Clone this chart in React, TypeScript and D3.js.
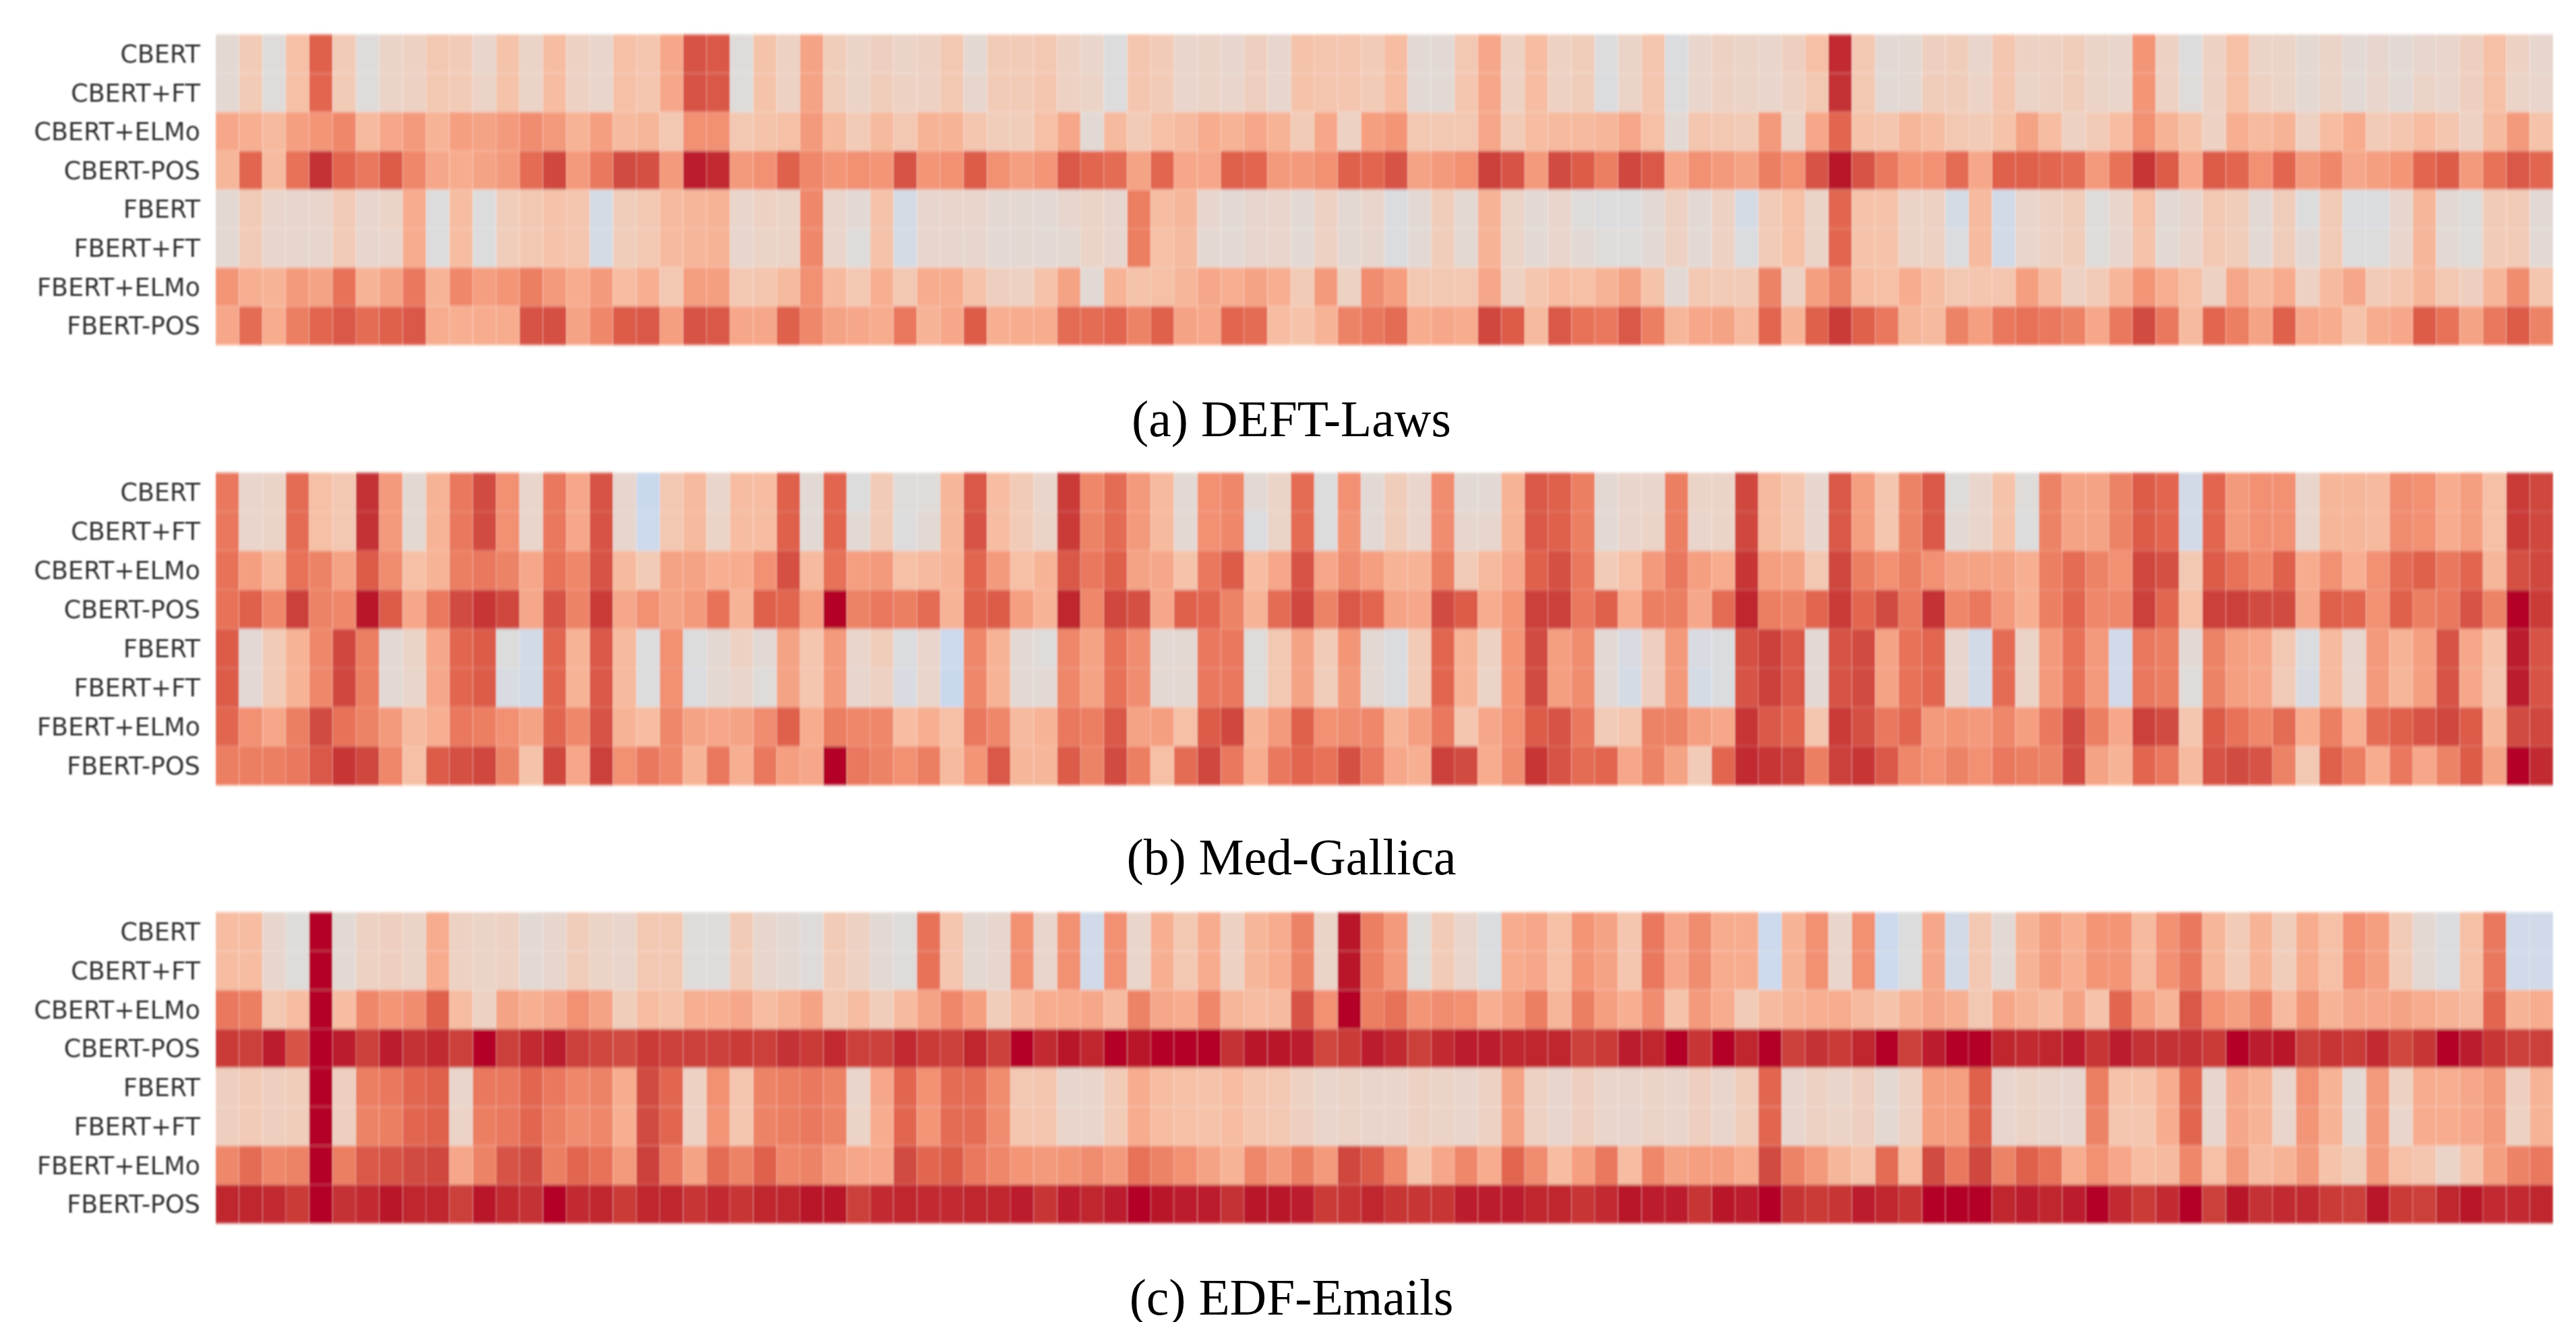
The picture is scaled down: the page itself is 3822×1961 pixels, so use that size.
import React from "react";
import * as d3 from "d3";

const rowLabels = ["CBERT", "CBERT+FT", "CBERT+ELMo", "CBERT-POS", "FBERT", "FBERT+FT", "FBERT+ELMo", "FBERT-POS"];

// one value per column (0-100, 50 is the neutral grey of the map)
const lawsCbert = [53,60,51,64,85,60,51,56,57,61,60,55,63,56,65,57,55,64,62,71,88,87,51,63,57,72,59,56,
  58,56,57,61,53,60,60,61,57,55,50,62,60,55,56,54,58,54,63,62,62,60,65,52,52,61,71,57,65,57,59,50,56,62,49,55,57,
  56,55,58,64,96,61,52,53,58,59,55,62,57,57,59,56,55,75,57,50,57,64,56,56,53,56,52,54,52,54,55,58,64,57,54];
const lawsCbertFt = [53,60,51,64,84,60,51,56,57,61,60,56,63,56,65,57,55,64,62,71,88,87,51,63,57,72,59,56,
  59,57,57,61,54,60,60,62,57,56,50,62,60,55,56,55,58,54,63,62,62,60,65,52,52,62,71,57,65,57,59,49,56,62,50,55,57,
  56,55,57,61,95,61,52,53,59,59,56,62,56,57,59,56,55,75,57,51,57,64,57,56,53,56,52,55,52,56,55,58,64,56,55];
const lawsCbertElmo = [71,69,66,73,75,78,66,71,74,68,73,72,74,77,74,68,73,66,67,61,76,76,61,63,64,74,66,60,
  66,61,68,68,62,59,59,64,71,52,66,60,64,66,70,68,71,68,60,71,57,73,75,61,61,61,71,60,65,66,66,67,71,64,52,62,61,
  60,74,56,71,84,63,62,67,65,61,60,63,72,65,57,60,65,76,68,63,57,69,66,68,57,65,70,60,62,65,62,57,66,74,63];
const lawsCbertPos = [67,84,66,82,95,84,81,86,78,71,70,72,74,83,91,74,81,90,89,74,98,96,74,76,85,78,75,76,
  75,88,75,76,86,76,73,75,87,84,83,72,84,71,71,85,84,74,74,76,85,84,88,72,74,76,92,88,74,90,86,80,91,87,71,76,74,
  72,80,76,88,99,88,81,75,76,83,71,85,85,84,83,74,82,94,86,71,86,84,76,84,74,78,71,73,75,84,86,74,82,87,84];
const lawsFbert = [53,60,55,54,55,60,54,56,70,50,65,50,59,61,63,62,47,59,61,66,67,68,55,57,56,78,55,52,
  63,47,54,55,55,53,53,52,54,56,54,80,65,67,54,52,54,55,52,57,53,55,49,52,59,53,68,56,52,55,51,50,50,52,57,52,57,
  47,60,64,56,84,63,63,56,57,47,66,46,55,57,59,51,55,64,52,54,61,59,52,59,50,60,49,49,54,67,52,51,60,60,52];
const lawsFbertFt = [53,60,54,54,54,60,54,55,70,50,65,50,59,61,63,62,47,59,61,66,67,68,54,56,56,78,55,51,
  63,47,54,54,54,52,53,52,53,56,54,80,64,66,53,52,54,55,52,57,53,54,49,52,59,53,68,56,52,55,52,51,51,52,57,52,57,
  49,60,64,56,84,63,63,56,57,49,66,46,55,57,59,51,54,63,52,55,61,59,52,59,52,60,50,50,55,67,52,51,60,60,52];
const lawsFbertElmo = [75,69,68,74,72,82,68,72,81,68,78,73,75,80,74,70,74,65,69,61,73,73,61,62,66,76,66,61,
  69,61,70,70,63,58,57,63,72,52,68,63,64,67,71,69,72,69,60,74,57,77,73,61,61,61,71,57,62,65,64,68,72,63,52,61,60,
  60,79,57,73,79,65,64,70,65,61,62,62,73,66,57,60,67,75,69,64,57,71,66,70,57,66,71,60,62,67,61,58,67,77,62];
const lawsFbertPos = [71,83,70,80,84,87,83,85,87,70,69,70,70,88,89,72,78,86,87,73,88,87,71,71,85,78,72,71,
  70,81,68,71,86,69,70,70,83,83,84,79,85,72,71,84,83,65,63,68,79,81,83,70,71,70,91,86,66,87,82,81,87,80,67,71,72,
  66,84,68,85,93,85,81,67,66,79,73,81,82,81,79,71,81,90,81,66,84,80,72,85,71,70,63,70,71,86,82,72,81,86,79];

const gallicaCbert = [81,55,56,83,64,61,95,74,53,68,81,90,76,55,81,71,88,54,43,61,66,55,65,65,85,52,84,50,
  60,51,51,67,87,65,60,55,93,78,83,74,66,52,76,78,52,56,83,50,76,52,59,55,77,52,52,68,87,85,80,53,55,55,80,56,56,
  91,66,62,54,87,73,62,79,87,51,55,63,51,79,72,72,79,86,84,46,84,74,76,76,55,67,67,66,77,76,70,73,64,93,91];
const gallicaCbertFt = [81,55,56,83,64,61,95,74,53,68,81,90,76,55,81,71,88,54,44,61,66,56,65,65,85,52,84,52,
  60,50,52,67,88,65,60,56,93,79,83,74,66,53,76,78,49,56,83,50,75,52,59,55,77,54,54,68,87,85,80,52,55,56,80,55,56,
  91,66,62,54,87,73,62,79,87,52,55,63,50,79,72,72,79,86,84,46,84,74,76,76,55,67,67,66,77,76,70,73,64,93,91];
const gallicaCbertElmo = [82,73,67,82,79,72,86,77,64,68,80,81,79,71,82,78,88,66,60,72,72,69,70,76,89,66,82,73,
  74,64,66,68,84,74,64,68,87,81,85,72,71,63,81,86,65,71,88,71,77,73,68,68,80,60,66,71,85,89,81,60,64,74,81,73,70,
  94,73,72,61,91,80,76,80,76,72,72,72,69,80,83,79,76,91,89,61,86,82,78,85,70,76,69,76,83,85,81,84,67,89,91];
const gallicaCbertPos = [82,85,78,92,79,78,99,86,71,81,90,94,91,71,88,79,93,71,76,72,74,82,68,85,84,73,100,79,
  81,80,83,68,85,86,73,68,97,78,91,89,71,85,84,79,68,83,91,79,87,84,72,71,90,86,70,75,92,92,81,85,70,80,80,71,83,
  97,80,79,84,93,84,90,81,95,78,81,74,69,80,84,78,78,92,84,64,92,92,90,90,71,85,84,76,85,80,81,88,79,100,93];
const gallicaFbert = [86,52,60,68,78,91,80,52,56,71,84,86,50,46,84,68,87,66,50,76,50,53,57,52,72,62,74,55,
  59,49,55,44,78,68,52,51,78,72,82,77,53,53,81,81,51,61,72,60,75,53,49,60,84,68,57,75,90,73,77,52,48,58,74,48,49,
  89,92,87,52,88,90,72,82,84,54,46,83,56,74,82,74,45,81,80,52,79,73,71,61,49,66,54,74,68,73,88,71,63,98,88];
const gallicaFbertFt = [86,52,60,68,78,91,80,52,55,71,84,86,48,46,84,68,87,66,50,76,49,53,55,51,72,62,74,54,
  57,48,55,43,78,68,52,52,78,72,82,77,53,53,81,81,51,61,72,59,74,53,49,60,84,68,56,75,90,73,77,52,47,58,74,47,49,
  88,92,87,52,88,90,72,82,84,54,46,83,56,74,82,74,45,81,80,51,79,73,71,60,48,66,55,74,67,73,88,71,62,98,88];
const gallicaFbertElmo = [84,76,71,80,90,82,79,74,66,69,81,80,76,72,84,78,88,68,65,78,72,71,72,77,85,70,80,78,
  78,65,69,64,81,78,66,68,81,80,87,72,73,64,86,91,68,74,85,76,77,78,68,73,81,62,71,76,86,88,81,60,62,79,79,73,71,
  94,87,84,62,93,89,81,84,74,75,74,78,73,81,90,80,71,92,90,62,86,82,78,83,70,80,69,83,85,88,91,86,67,90,91];
const gallicaFbertPos = [80,80,80,81,87,94,91,78,64,86,89,91,79,63,91,71,92,76,81,78,68,81,69,81,73,71,100,81,
  79,76,80,66,75,87,67,67,86,79,90,80,64,83,91,81,70,81,84,82,89,81,71,69,92,90,70,77,94,88,83,84,71,79,72,60,84,
  96,94,92,80,92,94,87,78,76,79,76,81,80,79,90,72,68,84,81,66,88,90,88,79,61,85,80,70,81,71,79,86,72,100,96];

const emailsCbert = [65,65,54,51,100,52,57,58,56,70,57,56,57,52,54,59,56,55,61,61,51,51,60,54,53,51,60,57,
  52,51,82,62,53,54,76,55,76,45,76,55,69,61,70,57,67,70,79,56,99,80,74,51,60,55,49,70,71,64,75,72,62,81,71,77,70,
  70,44,68,76,55,76,44,50,71,46,61,52,68,73,69,75,75,66,76,81,67,60,68,59,70,64,76,73,60,53,49,64,81,45,45];
const emailsCbertFt = [65,65,54,51,100,52,57,58,56,70,57,56,57,52,54,59,56,55,61,61,51,51,60,54,53,51,60,57,
  52,51,82,62,53,54,76,55,76,45,76,55,69,61,70,57,67,70,79,56,99,80,74,51,60,55,49,70,71,64,75,72,62,81,71,77,70,
  70,44,68,76,55,76,44,50,71,46,61,52,68,73,69,75,75,66,76,81,67,60,68,59,70,64,76,73,60,53,49,64,81,45,45];
const emailsCbertElmo = [81,80,61,65,100,65,78,75,77,85,65,57,72,69,71,76,72,59,65,63,69,69,71,65,68,72,61,65,
  59,66,72,78,73,59,66,70,70,71,66,79,71,70,78,67,65,66,88,76,100,80,82,75,77,76,69,73,80,67,80,73,69,77,63,74,70,
  60,66,68,69,70,66,63,68,71,69,61,71,68,65,72,63,84,73,68,87,76,73,78,66,75,68,71,71,72,70,68,66,84,68,70];
const emailsCbertPos = [93,92,98,88,100,98,92,98,95,96,92,100,92,96,98,92,91,90,93,92,92,92,93,92,95,93,96,92,
  92,96,93,92,97,92,100,96,99,97,100,99,100,100,100,95,99,99,98,91,93,98,96,92,96,98,98,97,97,97,92,93,98,97,100,94,100,
  97,100,92,95,93,97,100,92,98,100,100,97,96,97,98,94,98,95,95,95,93,100,98,99,92,94,93,96,91,94,100,98,94,92,92];
const emailsFbert = [58,60,58,59,100,58,80,81,84,85,55,81,81,84,81,78,79,70,90,84,57,76,62,79,80,81,79,55,
  71,84,76,83,83,77,61,62,54,55,60,70,65,64,63,65,62,61,57,55,56,55,55,57,56,55,57,72,57,54,58,55,55,56,55,58,55,
  59,84,54,57,55,58,53,57,73,73,85,54,56,55,54,80,63,63,70,84,54,71,68,55,76,68,53,74,57,70,69,71,74,58,68];
const emailsFbertFt = [58,60,58,59,100,58,79,80,84,85,56,80,81,84,80,77,78,69,90,84,57,75,62,79,80,81,79,56,
  70,84,75,83,83,77,62,62,55,55,60,70,65,64,63,65,62,61,58,55,56,55,55,57,56,55,57,72,57,54,58,55,54,56,55,58,55,
  59,84,54,57,56,58,53,57,73,73,85,54,56,55,54,79,62,62,70,84,54,71,68,55,75,68,53,74,55,70,70,71,74,57,68];
const emailsFbertElmo = [78,83,78,79,100,80,87,88,90,91,71,79,88,90,80,84,82,74,92,81,72,83,79,85,78,79,74,71,
  71,90,84,86,81,78,75,74,75,77,74,82,79,76,72,68,78,74,80,74,91,86,78,63,71,78,70,84,77,65,73,81,65,78,72,73,73,
  70,90,79,74,67,63,83,65,90,81,91,79,85,82,70,76,71,65,66,78,64,74,66,68,74,63,59,74,64,62,56,63,73,79,81];
const emailsFbertPos = [97,97,96,93,100,95,96,99,97,97,92,99,96,95,100,96,97,93,97,97,94,96,94,97,97,99,99,92,
  96,97,96,96,97,97,98,94,98,97,98,100,99,98,98,95,99,99,98,93,94,97,94,94,94,98,98,98,97,97,94,96,99,98,98,94,99,
  98,100,94,93,94,98,97,94,100,100,100,97,98,97,98,100,96,93,96,100,92,99,95,96,96,93,92,99,93,92,97,99,96,96,97];

const panels = [
  { caption: "(a) DEFT-Laws", top: 51, bottom: 512, captionY: 647,
    rows: [lawsCbert, lawsCbertFt, lawsCbertElmo, lawsCbertPos, lawsFbert, lawsFbertFt, lawsFbertElmo, lawsFbertPos] },
  { caption: "(b) Med-Gallica", top: 701, bottom: 1165, captionY: 1297,
    rows: [gallicaCbert, gallicaCbertFt, gallicaCbertElmo, gallicaCbertPos, gallicaFbert, gallicaFbertFt, gallicaFbertElmo, gallicaFbertPos] },
  { caption: "(c) EDF-Emails", top: 1353, bottom: 1815, captionY: 1950,
    rows: [emailsCbert, emailsCbertFt, emailsCbertElmo, emailsCbertPos, emailsFbert, emailsFbertFt, emailsFbertElmo, emailsFbertPos] },
];

// coolwarm, upper half mostly
const color = d3
  .scaleLinear<string>()
  .domain([40, 44, 50, 55, 60, 65, 70, 75, 80, 85, 90, 95, 97, 99, 100])
  .range(["#c0d4f5", "#cdd9ec", "#dddcdc", "#e9d5cb", "#f2cbb7", "#f6bda2", "#f7ac8e", "#f39577", "#ec7e62", "#df604c", "#d24b40", "#c43034", "#bf252e", "#b9192b", "#b40426"])
  .interpolate(d3.interpolateRgb);

const columns = d3.range(100);
const x = d3.scaleBand<number>().domain(columns).range([320, 3788]);

const Panel = ({ panel }: { panel: (typeof panels)[number] }) => {
  const y = d3.scaleBand<string>().domain(rowLabels).range([panel.top, panel.bottom]);

  return (
    <g>
      <g filter="url(#soft)">
        {panel.rows.map((row, r) =>
          row.map((v, c) => (
            <rect
              key={r + "-" + c}
              x={x(c)}
              y={y(rowLabels[r])}
              width={x.bandwidth()}
              height={y.bandwidth()}
              fill={color(v)}
              stroke="#fff"
              strokeOpacity={0.22}
              strokeWidth={1}
            />
          ))
        )}
      </g>
      <g filter="url(#softText)" fontFamily="DejaVu Sans" fontSize={36.5} fill="#333" textAnchor="end">
        {rowLabels.map((label) => (
          <text key={label} x={297} y={y(label)! + y.bandwidth() / 2} dy="0.36em">
            {label}
          </text>
        ))}
      </g>
      <text x={1916} y={panel.captionY} textAnchor="middle" fontFamily="Liberation Serif" fontSize={75.6} fill="#000">
        {panel.caption}
      </text>
    </g>
  );
};

export default function App() {
  return (
    <svg width={3822} height={1961} style={{ position: "absolute", left: 0, top: 0, background: "#fff" }}>
      <defs>
        <filter id="soft" x="-1%" y="-5%" width="102%" height="110%">
          <feGaussianBlur stdDeviation="1.2 2.2" />
        </filter>
        <filter id="softText" x="-5%" y="-5%" width="110%" height="110%">
          <feGaussianBlur stdDeviation="1" />
        </filter>
      </defs>
      {panels.map((p) => (
        <Panel key={p.caption} panel={p} />
      ))}
    </svg>
  );
}
